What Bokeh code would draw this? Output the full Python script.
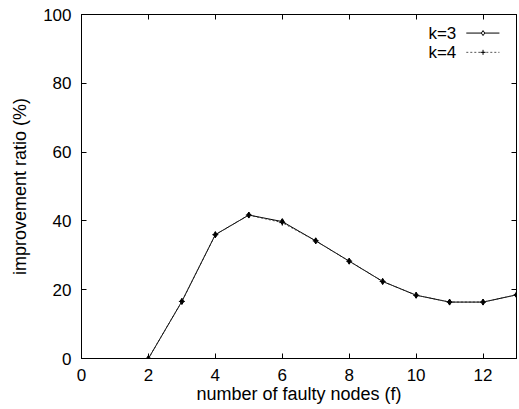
from bokeh.plotting import figure
from bokeh.models import LinearAxis, Range1d, FixedTicker, Label, CustomJSTickFormatter
from bokeh.embed import file_html
from bokeh.resources import INLINE

faulty = [2, 3, 4, 5, 6, 7, 8, 9, 10, 11, 12, 13]
k3 = [0, 16.6, 36.0, 41.7, 39.8, 34.2, 28.3, 22.4, 18.4, 16.4, 16.4, 18.5]
k4 = [0, 16.6, 36.0, 41.7, 39.5, 34.2, 28.3, 22.4, 18.4, 16.4, 16.4, 18.5]
x_ticks = [0, 2, 4, 6, 8, 10, 12]
y_ticks = [0, 20, 40, 60, 80, 100]
FONT = "Liberation Sans"
FS = "17px"
FS_LABEL = "18px"

p = figure(width=519, height=409, output_backend="svg", toolbar_location=None,
           x_range=Range1d(0, 13), y_range=Range1d(0, 100),
           min_border_left=81, min_border_right=3, min_border_top=14, min_border_bottom=51)
p.xgrid.visible = False
p.ygrid.visible = False
p.outline_line_color = "black"
p.outline_line_alpha = 1
p.background_fill_color = "white"
p.border_fill_color = "white"

def style(ax, ticks, labels=True):
    ax.ticker = FixedTicker(ticks=ticks)
    ax.major_tick_in = 5
    ax.major_tick_out = 0
    ax.minor_tick_line_color = None
    ax.axis_line_color = "black"
    ax.major_tick_line_color = "black"
    ax.major_label_text_font = FONT
    ax.major_label_text_font_size = FS
    ax.major_label_text_color = "black"
    ax.axis_label_text_font = FONT
    ax.axis_label_text_font_size = FS_LABEL
    ax.axis_label_text_font_style = "normal"
    ax.axis_label_text_color = "black"
    if not labels:
        ax.formatter = CustomJSTickFormatter(code="return ''")
        ax.major_label_standoff = 0

style(p.xaxis[0], x_ticks)
style(p.yaxis[0], y_ticks)
p.xaxis[0].axis_label = "number of faulty nodes (f)"
p.yaxis[0].axis_label = "improvement ratio (%)"
p.xaxis[0].major_label_standoff = 10
p.xaxis[0].axis_label_standoff = 0
p.yaxis[0].major_label_standoff = 10
p.yaxis[0].axis_label_standoff = 10

top = LinearAxis()
style(top, x_ticks, labels=False)
p.add_layout(top, "above")
right = LinearAxis()
style(right, y_ticks, labels=False)
p.add_layout(right, "right")

p.line(faulty, k3, line_color="black", line_width=1)
p.scatter(faulty, k3, marker="diamond", size=6, line_color="black", fill_color="black")
p.line(faulty, k4, line_color="#333333", line_width=1, line_dash="2 2")
p.scatter(faulty, k4, marker="cross", size=6, line_color="black")

# legend (gnuplot style: label, then sample)
legend_labels = ["k=3", "k=4"]
legend_y = [94.6, 89.0]
for lab, yy, dash, mk in zip(legend_labels, legend_y, [None, "2 2"], ["diamond", "cross"]):
    p.add_layout(Label(x=11.2, y=yy, text=lab, text_align="right", text_baseline="middle",
                       text_font=FONT, text_font_size=FS, text_color="black"))
    if dash:
        p.line([11.5, 12.49], [yy, yy], line_color="#555555", line_dash=dash)
    else:
        p.line([11.5, 12.49], [yy, yy], line_color="black")
    p.scatter([12.0], [yy], marker=mk, size=5, line_color="black",
              fill_color="white" if mk == "diamond" else None)

open("out.html", "w").write(file_html(p, INLINE))
